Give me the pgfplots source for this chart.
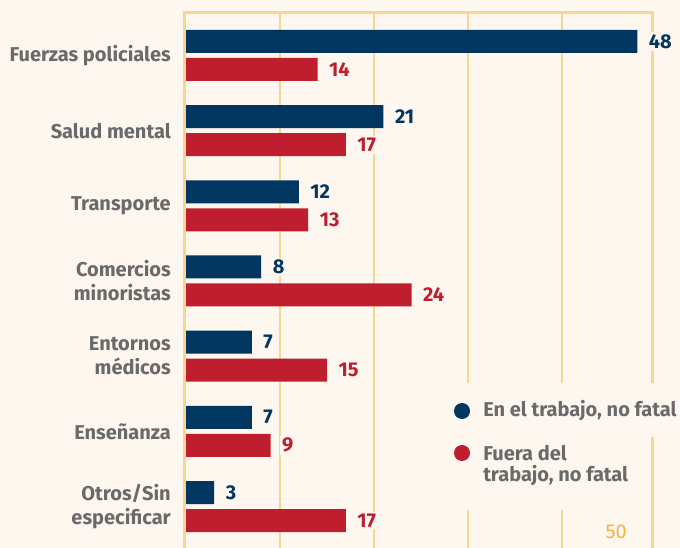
\documentclass[border=0pt]{standalone}
\usepackage{fontspec}
\setmainfont{Fira Sans}
\usepackage{pgfplots}
\pgfplotsset{compat=1.18}
\definecolor{bg}{HTML}{FDF7F0}
\definecolor{navy}{HTML}{00365F}
\definecolor{crimson}{HTML}{BE1E2D}
\definecolor{gridorange}{HTML}{F9D591}
\definecolor{tickorange}{HTML}{F4B53F}
\definecolor{labelgray}{HTML}{6A6A6A}
\newcommand{\ChartFont}{\bfseries\fontsize{15}{18}\selectfont}
\def\u{0.75pt}

\begin{document}
\begin{tikzpicture}
\fill[bg] (0,0) rectangle (510pt,411pt);
\useasboundingbox (0,0) rectangle (510pt,411pt);
\begin{axis}[
  at={({186*\u},0pt)}, anchor=south west,
  scale only axis, width=349.5pt, height=401.25pt,
  xbar, bar width=17.25pt,
  xmin=0, xmax=49.57, ymin=-0.552, ymax=6.565,
  axis line style={draw=none},
  xtick={10,20,30,40}, xticklabels={},
  xmajorgrids, grid style={gridorange, line width=1pt},
  major tick length=0pt,
  ytick={0,...,6},
  yticklabels={{Otros/Sin\\especificar},Enseñanza,{Entornos\\médicos},{Comercios\\minoristas},Transporte,{Salud mental},{Fuerzas policiales}},
  yticklabel style={align=right, inner sep=0pt, xshift=-11.25pt, text=labelgray, font=\ChartFont},
  /pgf/number format/assume math mode=true,
  nodes near coords,
  nodes near coords style={font=\ChartFont, anchor=west, fill=bg, inner sep=1.5pt, xshift=7pt},
  clip=false,
]
\draw[gridorange, line width=2.25pt]
  ([xshift=-1.2pt]rel axis cs:0,0) -- ([xshift=-1.2pt]rel axis cs:0,1)
  -- (rel axis cs:1,1) -- (rel axis cs:1,0);
\addplot[fill=navy, draw=none, bar shift=10.5pt,
  every node near coord/.append style={text=navy}] coordinates {
  (3,0) (7,1) (7,2) (8,3) (12,4) (21,5) (48,6)
};
\addplot[fill=crimson, draw=none, bar shift=-10.5pt,
  every node near coord/.append style={text=crimson}] coordinates {
  (17,0) (9,1) (15,2) (24,3) (13,4) (17,5) (14,6)
};
\end{axis}
% legend
\fill[bg] ({455*\u},{111*\u}) rectangle ({680*\u},{165*\u});
\fill[bg] ({455*\u},{38*\u}) rectangle ({640*\u},{111*\u});
\fill[navy] ({462*\u},{137*\u}) circle (6pt);
\fill[crimson] ({462*\u},{95*\u}) circle (6pt);
\node[anchor=base west, inner sep=0pt, text=labelgray, font=\ChartFont] at ({483*\u},{131*\u}) {En el trabajo, no fatal};
\node[anchor=base west, inner sep=0pt, text=labelgray, font=\ChartFont] at ({483*\u},{87*\u}) {Fuera del};
\node[anchor=base west, inner sep=0pt, text=labelgray, font=\ChartFont] at ({483*\u},{66*\u}) {trabajo, no fatal};
\node[anchor=base east, inner sep=0pt, text=tickorange, font=\fontsize{15}{18}\selectfont] at ({627*\u},{9*\u}) {50};
\end{tikzpicture}
\end{document}
